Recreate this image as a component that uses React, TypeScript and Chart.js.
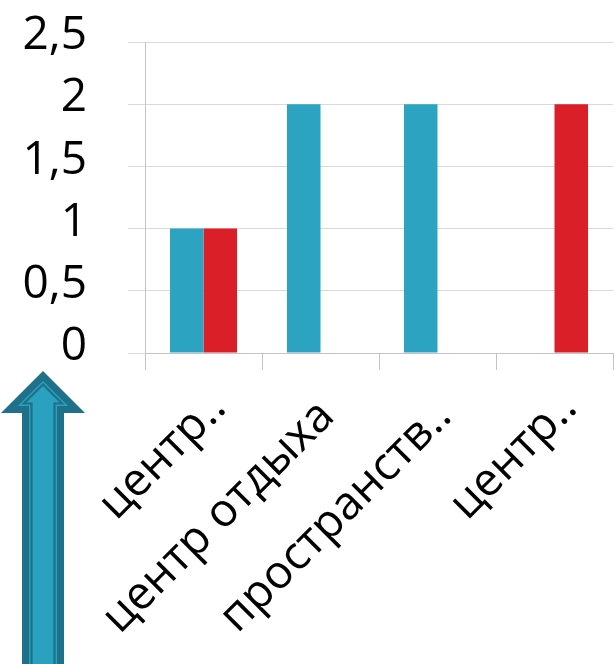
import React, { useEffect, useRef } from 'react';
import { Chart, registerables } from 'chart.js';

Chart.register(...registerables);

const categories = ['центр..', 'центр отдыха', 'пространств..', 'центр..'];
const seriesTeal = [1, 2, 2, 0];
const seriesRed = [1, 0, 0, 2];
const yTickLabels = ['0', '0,5', '1', '1,5', '2', '2,5'];

const TEAL = '#2ca3c0';
const RED = '#db1f28';
const ARROW_DARK = '#1f7189';
const ARROW_LIGHT = '#2aa1be';
const FONT = "'Open Sans', sans-serif";

const arrowPlugin = {
  id: 'decorArrow',
  afterDraw(chart: any) {
    const ctx = chart.ctx;
    const k = 1 + Math.SQRT2;
    const path = (d: number) => {
      ctx.beginPath();
      ctx.moveTo(43, 371 + Math.SQRT2 * d);
      ctx.lineTo(85 - k * d, 413 - d);
      ctx.lineTo(64 - d, 413 - d);
      ctx.lineTo(64 - d, 700);
      ctx.lineTo(22 + d, 700);
      ctx.lineTo(22 + d, 413 - d);
      ctx.lineTo(1 + k * d, 413 - d);
      ctx.closePath();
    };
    ctx.save();
    path(0);
    ctx.fillStyle = ARROW_DARK;
    ctx.fill();
    path(7);
    ctx.fillStyle = ARROW_LIGHT;
    ctx.fill();
    path(9.5);
    ctx.lineWidth = 2.2;
    ctx.strokeStyle = ARROW_DARK;
    ctx.stroke();
    ctx.restore();
  },
};

export default function App() {
  const ref = useRef<HTMLCanvasElement | null>(null);
  useEffect(() => {
    if (!ref.current) return;
    const chart = new Chart(ref.current, {
      type: 'bar',
      data: {
        labels: categories,
        datasets: [
          { label: 'A', data: seriesTeal, backgroundColor: TEAL, borderWidth: 0 },
          { label: 'B', data: seriesRed, backgroundColor: RED, borderWidth: 0 },
        ],
      },
      options: {
        responsive: false,
        devicePixelRatio: 1,
        animation: false,
        layout: { padding: { top: 42, right: 2, left: 0, bottom: 0 } },
        plugins: { legend: { display: false }, tooltip: { enabled: false } },
        datasets: { bar: { categoryPercentage: 0.573, barPercentage: 1 } },
        scales: {
          x: {
            grid: {
              offset: true,
              drawOnChartArea: false,
              drawTicks: true,
              tickLength: 17,
              color: '#c4c4c4',
            },
            border: { color: '#c4c4c4' },
            ticks: {
              font: { family: FONT, size: 46 },
              color: '#000',
              minRotation: 45,
              maxRotation: 45,
              autoSkip: false,
              padding: 11,
              labelOffset: 15,
              callback: (_v: any, i: number) =>
                categories[i].length > 8 ? categories[i] + ' ' : categories[i],
            },
            afterFit: (s: any) => {
              s.height = 311;
              s.paddingLeft = 0;
              s.paddingRight = 0;
            },
          },
          y: {
            min: 0,
            max: 2.5,
            ticks: {
              stepSize: 0.5,
              callback: (_v: any, i: number) => yTickLabels[i],
              font: { family: FONT, size: 46 },
              color: '#000',
              padding: 41,
              labelOffset: -6,
            },
            grid: { color: '#d9d9d9', tickLength: 17 },
            border: { color: '#c4c4c4' },
            afterFit: (s: any) => {
              s.width = 145;
              s.paddingTop = 0;
              s.paddingBottom = 0;
            },
          },
        },
      },
      plugins: [arrowPlugin],
    } as any);
    return () => chart.destroy();
  }, []);
  return (
    <div style={{ position: 'absolute', left: 0, top: 0, width: 615, height: 664 }}>
      <canvas ref={ref} width={615} height={664} />
    </div>
  );
}
